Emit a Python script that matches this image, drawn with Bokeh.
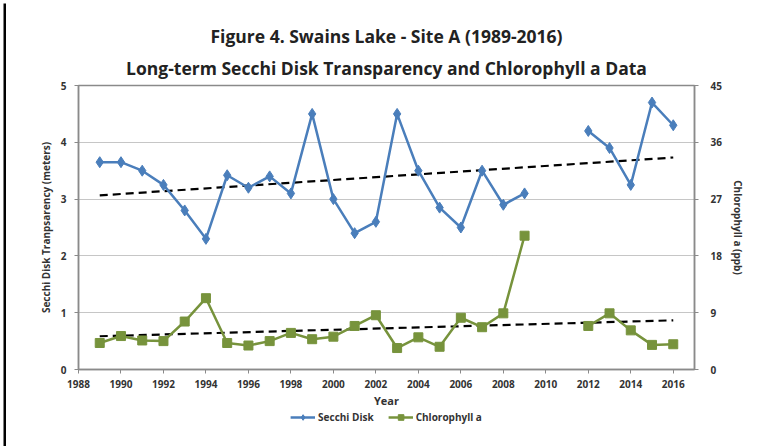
import numpy as np
from bokeh.plotting import figure
from bokeh.layouts import column, row
from bokeh.models import Range1d, LinearAxis, FixedTicker, Legend, LegendItem, Title
from bokeh.embed import file_html
from bokeh.resources import INLINE

# ---- data ----
years = list(range(1989, 2017))
secchi = [3.65, 3.65, 3.5, 3.25, 2.8, 2.3, 3.42, 3.2, 3.4, 3.1, 4.5, 3.0, 2.4, 2.6,
          4.5, 3.5, 2.85, 2.5, 3.5, 2.9, 3.1, None, None, 4.2, 3.9, 3.25, 4.7, 4.3]
chlorophyll = [4.2, 5.3, 4.6, 4.5, 7.6, 11.3, 4.2, 3.8, 4.5, 5.8, 4.8, 5.2, 6.9, 8.6,
               3.4, 5.1, 3.6, 8.2, 6.7, 8.9, 21.2, None, None, 6.9, 8.9, 6.2, 3.9, 4.0]
x_ticks = list(range(1988, 2017, 2))
left_ticks = [0, 1, 2, 3, 4, 5]
right_ticks = [0, 9, 18, 27, 36, 45]

title1 = "Figure 4. Swains Lake - Site A (1989-2016)"
title2 = "Long-term Secchi Disk Transparency and Chlorophyll a Data"
left_label = "Secchi Disk Tranpsarency (meters)"
right_label = "Chlorophyll a (ppb)"
x_label = "Year"
series_names = ["Secchi Disk", "Chlorophyll a"]

BLUE = "#4A7EBB"
GREEN = "#77933C"
FONT = "Open Sans"
AX = "#8a8a8a"
TXT = "#333333"

yr = np.array(years, dtype=float)
s = np.array([np.nan if v is None else v for v in secchi], dtype=float)
c = np.array([np.nan if v is None else v for v in chlorophyll], dtype=float)


def strip(w, h, top=0, left=0, fill="white"):
    f = figure(width=w, height=h, x_range=Range1d(0, 1), y_range=Range1d(0, 1),
               output_backend="svg", toolbar_location=None, min_border=0,
               min_border_top=top, min_border_left=left)
    f.axis.visible = False
    f.grid.grid_line_color = None
    f.outline_line_color = None
    f.background_fill_color = "black"
    f.border_fill_color = fill
    return f


W = 759
p = figure(width=W, height=406, x_range=Range1d(1988, 2017), y_range=Range1d(0, 5),
           output_backend="svg", toolbar_location=None,
           min_border_left=72, min_border_right=71, min_border_top=81, min_border_bottom=40)
p.extra_y_ranges = {"chl": Range1d(0, 45)}
p.background_fill_color = "white"
p.border_fill_color = "white"
p.outline_line_color = AX
p.outline_line_width = 1.5

rax = LinearAxis(y_range_name="chl")
p.add_layout(rax, "right")

for ax in (p.xaxis[0], p.yaxis[0], rax):
    ax.axis_line_color = AX
    ax.axis_line_width = 1.5
    ax.major_tick_line_color = AX
    ax.major_tick_out = 4
    ax.major_tick_in = 0
    ax.minor_tick_line_color = None
    ax.major_label_text_font = FONT
    ax.major_label_text_font_style = "bold"
    ax.major_label_text_font_size = "10px"
    ax.major_label_text_color = TXT
    ax.axis_label_text_font = FONT
    ax.axis_label_text_font_style = "bold"
    ax.axis_label_text_color = TXT

p.xaxis.ticker = FixedTicker(ticks=x_ticks)
p.yaxis.ticker = FixedTicker(ticks=left_ticks)
rax.ticker = FixedTicker(ticks=right_ticks)

p.xaxis.axis_label = x_label
p.xaxis.axis_label_text_font_size = "11px"
p.xaxis.major_label_standoff = 6
p.xaxis.axis_label_standoff = 2

p.yaxis.axis_label = left_label
p.yaxis.axis_label_text_font_size = "10px"
p.yaxis.major_label_standoff = 8
p.yaxis.axis_label_standoff = 5

rax.axis_label = right_label
rax.axis_label_text_font_size = "10px"
rax.major_label_standoff = 12
rax.axis_label_standoff = 6

p.xgrid.grid_line_color = None
p.ygrid.grid_line_color = "#8c8c8c"
p.ygrid.grid_line_dash = "1 1"
p.ygrid.grid_line_width = 1

# trend lines (linear fits)
ms = ~np.isnan(s)
ks, bs = np.polyfit(yr[ms], s[ms], 1)
mc = ~np.isnan(c)
kc, bc = np.polyfit(yr[mc], c[mc], 1)
tx = np.array([years[0], years[-1]], dtype=float)
p.line(tx, ks * tx + bs, line_color="black", line_width=2.2, line_dash="8 5")
p.line(tx, kc * tx + bc, line_color="black", line_width=2.2, line_dash="8 5", y_range_name="chl")

# series
p.line(yr, s, line_color=BLUE, line_width=2.5)
p.scatter(yr, s, marker="diamond", size=11, fill_color=BLUE, line_color=BLUE)
p.line(yr, c, line_color=GREEN, line_width=2.5, y_range_name="chl")
p.scatter(yr, c, marker="square", size=9, fill_color=GREEN, line_color=GREEN, y_range_name="chl")

# titles (line closest to the plot first)
p.add_layout(Title(text=title2, align="center", text_font=FONT, text_font_style="bold",
                   text_font_size="17.5px", text_color="#222222", standoff=12), "above")
p.add_layout(Title(text=title1, align="center", text_font=FONT, text_font_style="bold",
                   text_font_size="17.5px", text_color="#222222", standoff=0), "above")

# legend strip below the chart (proxy renderers without visible points)
lg = figure(width=W, height=36, x_range=Range1d(0, 1), y_range=Range1d(0, 1),
            output_backend="svg", toolbar_location=None, min_border=0)
lg.axis.visible = False
lg.grid.grid_line_color = None
lg.outline_line_color = None
lg.background_fill_color = "white"
lg.border_fill_color = "white"
nan1 = [np.nan]
r1 = lg.line(nan1, nan1, line_color=BLUE, line_width=2.5)
r1m = lg.scatter(nan1, nan1, marker="diamond", size=8, fill_color=BLUE, line_color=BLUE)
r2 = lg.line(nan1, nan1, line_color=GREEN, line_width=2.5)
r2m = lg.scatter(nan1, nan1, marker="square", size=7, fill_color=GREEN, line_color=GREEN)
legend = Legend(items=[LegendItem(label=series_names[0], renderers=[r1, r1m]),
                       LegendItem(label=series_names[1], renderers=[r2, r2m])],
                orientation="horizontal", location="top_center",
                margin=0, padding=0, spacing=14, glyph_width=25, glyph_height=14,
                label_height=14, label_standoff=3, border_line_color=None,
                background_fill_alpha=0,
                label_text_font=FONT, label_text_font_size="10px",
                label_text_font_style="bold", label_text_color=TXT)
lg.add_layout(legend)

# thick black frame lines (left and top edges of the figure box)
left_edge = strip(6, 446, top=3, left=3)
top_edge = strip(W, 4, fill="black")

page = row(left_edge, column(top_edge, p, lg, spacing=0), spacing=0)
open("out.html", "w").write(file_html(page, INLINE))
